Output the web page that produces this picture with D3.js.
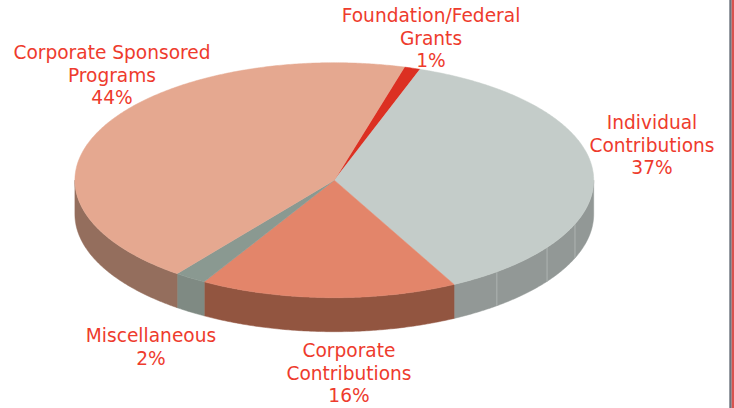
<!DOCTYPE html>
<html>
<head>
<meta charset="utf-8">
<script src="https://cdn.jsdelivr.net/npm/d3@7"></script>
<style>
  html, body { margin: 0; padding: 0; background: #fff; }
  svg { display: block; }
  text { font-family: "DejaVu Sans", "Open Sans", sans-serif; }
</style>
</head>
<body>
<svg id="chart" width="734" height="408"></svg>
<script>
// ---- Data ----
const categories = ["Foundation/Federal Grants", "Individual Contributions", "Corporate Contributions", "Miscellaneous", "Corporate Sponsored Programs"];
const values = [1, 37, 16, 2, 44];
const labelLines = [
  ["Foundation/Federal", "Grants", "1%"],
  ["Individual", "Contributions", "37%"],
  ["Corporate", "Contributions", "16%"],
  ["Miscellaneous", "2%"],
  ["Corporate Sponsored", "Programs", "44%"]
];

// ---- Style / layout ----
const topColors  = ["#DC3022", "#C4CCC9", "#E3856A", "#8A9991", "#E5A890"];
const sideColors = ["#A82418", "#929896", "#925540", "#7F8A83", "#946E5D"];
const labelPos = [ // [center x, first baseline y]
  [431, 22], [652, 129], [349, 357], [151, 342], [112, 59]
];
const lineH = 22.5;
const cx = 334.3, cy = 180.2, rx = 259.4, ry = 117.5, depth = 34;
const startDeg = 15.7;
const seamDeg = [111.9, 124.9, 141.2];

const svg = d3.select("#chart");

const pie = d3.pie().sort(null).value(d => d)
  .startAngle(startDeg * Math.PI / 180)
  .endAngle(startDeg * Math.PI / 180 + 2 * Math.PI);
const arcs = pie(values);

const pt = (t, dy = 0) => [cx + rx * Math.sin(t), cy - ry * Math.cos(t) + dy];
const sample = (a0, a1, dy) => {
  const n = Math.max(2, Math.ceil(Math.abs(a1 - a0) / (Math.PI / 360)));
  return d3.range(n + 1).map(i => pt(a0 + (a1 - a0) * i / n, dy));
};
const line = d3.line();

// sides (front half only: angles between PI/2 and 3PI/2)
const sideG = svg.append("g");
arcs.forEach((a, i) => {
  [0, -2 * Math.PI].forEach(off => {
    const s = Math.max(a.startAngle + off, Math.PI / 2);
    const e = Math.min(a.endAngle + off, 3 * Math.PI / 2);
    if (e <= s) return;
    const topPts = sample(s, e, 0);
    const botPts = sample(e, s, depth);
    sideG.append("path")
      .attr("d", line(topPts.concat(botPts)) + "Z")
      .attr("fill", sideColors[i])
      .attr("stroke", sideColors[i])
      .attr("stroke-width", 0.5);
  });
});

// seams on the side
seamDeg.forEach(dg => {
  const t = dg * Math.PI / 180;
  const p0 = pt(t, 0), p1 = pt(t, depth);
  sideG.append("line")
    .attr("x1", p0[0]).attr("y1", p0[1])
    .attr("x2", p1[0]).attr("y2", p1[1])
    .attr("stroke", "#AEB4B2").attr("stroke-width", 1);
});

// top faces
const topG = svg.append("g");
arcs.forEach((a, i) => {
  const pts = [[cx, cy]].concat(sample(a.startAngle, a.endAngle, 0));
  topG.append("path")
    .attr("d", line(pts) + "Z")
    .attr("fill", topColors[i])
    .attr("stroke", topColors[i])
    .attr("stroke-width", 0.5)
    .attr("stroke-linejoin", "round");
});

// labels
const labG = svg.append("g")
  .attr("fill", "#EE3B2D")
  .attr("font-size", "18.6px")
  .attr("text-anchor", "middle");
labelLines.forEach((lines, i) => {
  const t = labG.append("text")
    .attr("x", labelPos[i][0]).attr("y", labelPos[i][1]);
  lines.forEach((l, j) => {
    t.append("tspan").attr("x", labelPos[i][0])
      .attr("y", labelPos[i][1] + j * lineH).text(l);
  });
});

// right border
svg.append("rect").attr("x", 729.3).attr("y", 0).attr("width", 2.4).attr("height", 408).attr("fill", "#6B737D");
svg.append("rect").attr("x", 731.7).attr("y", 0).attr("width", 2.3).attr("height", 408).attr("fill", "#D9534F");
</script>
</body>
</html>
